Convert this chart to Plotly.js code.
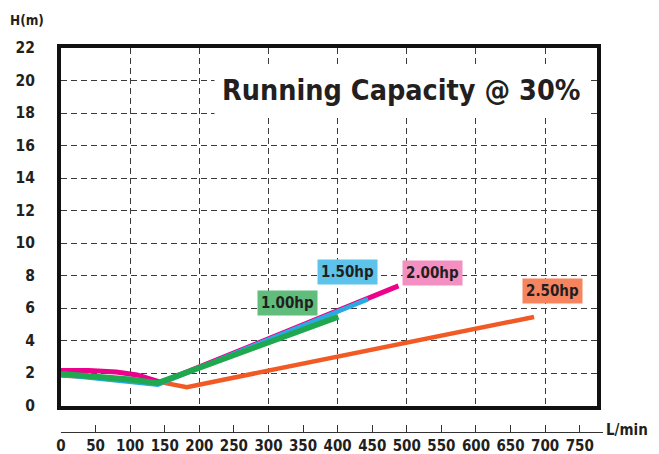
<!DOCTYPE html>
<html><head><meta charset="utf-8">
<script src="https://cdn.plot.ly/plotly-3.0.1.min.js"></script>
<style>html,body{margin:0;padding:0;background:#fff}#chart{width:659px;height:454px}</style>
</head><body><div id="chart"></div>
<script>
// Flow (L/min) and head H (m) for each motor size
const hp250_x = [0, 70, 140, 182, 684];
const hp250_y = [1.85, 1.7, 1.47, 1.13, 5.45];
const hp200_x = [0, 40, 80, 110, 145, 488];
const hp200_y = [2.15, 2.15, 2.06, 1.88, 1.42, 7.36];
const hp150_x = [0, 70, 140, 444];
const hp150_y = [1.9, 1.6, 1.28, 6.55];
const hp100_x = [0, 50, 100, 140, 401];
const hp100_y = [1.95, 1.8, 1.6, 1.38, 5.46];

const seriesNames = ['2.50hp', '2.00hp', '1.50hp', '1.00hp'];
const lineColors = ['#f15a24', '#ec008c', '#29abe2', '#1fa84f'];
const labelColors = ['#f5845f', '#f38fc1', '#5ec3ea', '#60bd7c'];
const labelX = [710, 537, 414, 327];
const labelY = [7.05, 8.16, 8.22, 6.31];

const xTicks = [0,50,100,150,200,250,300,350,400,450,500,550,600,650,700,750];
const yTicks = [0,2,4,6,8,10,12,14,16,18,20,22];
const chartTitle = 'Running Capacity @ 30%';

const FONT = "'DejaVu Sans Condensed', 'DejaVu Sans', sans-serif";
const INK = '#231f20';
const f = (size) => ({family: FONT, size: size, color: INK, weight: 'bold'});

const xs = [hp250_x, hp200_x, hp150_x, hp100_x];
const ys = [hp250_y, hp200_y, hp150_y, hp100_y];
const widths = [4.5, 5, 4.5, 5.8];

const traces = xs.map((x, i) => ({
  x: x, y: ys[i], type: 'scatter', mode: 'lines', name: seriesNames[i],
  line: {color: lineColors[i], width: widths[i]},
  hoverinfo: 'skip', showlegend: false
}));
// anchor trace for the separate scale axis under the frame
traces.push({x: [0], y: [0], xaxis: 'x2', yaxis: 'y2', mode: 'markers',
  marker: {opacity: 0}, hoverinfo: 'skip', showlegend: false});

const annotations = seriesNames.map((n, i) => ({
  x: labelX[i], y: labelY[i], xref: 'x', yref: 'y', text: n, showarrow: false,
  bgcolor: labelColors[i], borderpad: 3, font: f(15)
}));
annotations.push({x: 492, y: 19.4, xref: 'x', yref: 'y', text: chartTitle, showarrow: false,
  bgcolor: '#ffffff', borderpad: 7, font: f(28.5)});
annotations.push({x: -0.062, y: 1.074, xref: 'paper', yref: 'paper', text: 'H(m)', showarrow: false,
  xanchor: 'center', yanchor: 'middle', font: f(13.5)});
annotations.push({x: 1.044, y: 0.004, xref: 'paper', yref: 'paper', text: 'L/min', showarrow: false,
  xanchor: 'center', yanchor: 'middle', font: f(15)});

const layout = {
  width: 659, height: 454,
  margin: {l: 61, r: 56, t: 48, b: 22},
  paper_bgcolor: '#ffffff', plot_bgcolor: '#ffffff',
  showlegend: false,
  xaxis: {
    domain: [0, 536/542], anchor: 'y', range: [0, 775], tickmode: 'linear', tick0: 0, dtick: 100,
    showticklabels: false, ticks: '', showgrid: true, gridcolor: '#3a3a3a', gridwidth: 1,
    griddash: '6px,4px', zeroline: false, showline: true, mirror: true,
    linecolor: '#111111', linewidth: 4, fixedrange: true
  },
  yaxis: {
    domain: [0.069, 1], anchor: 'x', range: [0, 22], tickmode: 'array', tickvals: yTicks,
    ticktext: yTicks.map(String), ticks: '', showgrid: true, gridcolor: '#3a3a3a', gridwidth: 1,
    griddash: '6px,4px', zeroline: false, showline: true, mirror: true,
    linecolor: '#111111', linewidth: 4, ticklabelstandoff: 19,
    tickfont: f(15.5), fixedrange: true
  },
  xaxis2: {
    domain: [0, 1], anchor: 'y2', range: [0, 542/(536/775)], tickmode: 'array',
    tickvals: xTicks, ticktext: xTicks.map(String), ticks: 'inside', ticklen: 7,
    tickcolor: '#333333', tickwidth: 1, showline: true, linecolor: '#333333', linewidth: 1,
    showgrid: false, zeroline: false, ticklabelstandoff: 0,
    tickfont: f(15), fixedrange: true
  },
  yaxis2: {domain: [0, 0.03], anchor: 'x2', visible: false, range: [0, 1], fixedrange: true},
  annotations: annotations
};

Plotly.newPlot('chart', traces, layout, {staticPlot: true, displayModeBar: false});
</script>
</body></html>
